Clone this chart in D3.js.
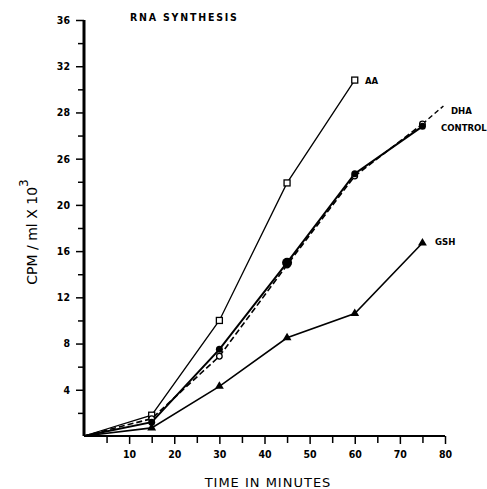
<!DOCTYPE html>
<html>
<head>
<meta charset="utf-8">
<script src="https://cdn.jsdelivr.net/npm/d3@7"></script>
<style>
  body { margin: 0; background: #fff; }
  svg { font-family: "DejaVu Sans", sans-serif; }
</style>
</head>
<body>
<svg id="chart" width="487" height="489"></svg>
<script>
// Data (time in minutes, CPM/ml x 10^3)
const times = [0, 15, 30, 45, 60, 75];
const aaValues = [0, 1.8, 10.0, 21.9, 30.8];          // open squares, stops at 60
const controlValues = [0, 1.2, 7.5, 15.0, 22.7, 26.8]; // filled circles
const dhaValues = [0, 1.5, 6.9, 14.8, 22.5, 27.0];     // dashed
const gshValues = [0, 0.7, 4.3, 8.5, 10.6, 16.7];      // filled triangles

const yTicks = [4, 8, 12, 16, 20, 24, 28, 32, 36];
const yTickLabels = ["4", "8", "12", "16", "20", "26", "28", "32", "36"];
const yMinorTicks = [2, 6, 10, 14, 18, 22, 26, 30, 34];
const xTicks = [10, 20, 30, 40, 50, 60, 70, 80];
const xMinorTicks = [5, 15, 25, 35, 45, 55, 65, 75];

const svg = d3.select("#chart");
const x = d3.scaleLinear().domain([0, 80]).range([84, 445]);
const y = d3.scaleLinear().domain([0, 36]).range([436, 20]);
const cond = "'DejaVu Sans Condensed', 'DejaVu Sans', sans-serif";

// Axes
const yAxis = svg.append("g")
    .attr("transform", `translate(${x(0)},0)`)
    .call(d3.axisLeft(y).tickValues(yTicks).tickFormat((d, i) => yTickLabels[i]).tickSize(8).tickPadding(6));
yAxis.select(".domain").attr("stroke-width", 3).attr("d", `M0,${y(36)}V${y(0)}`);
yAxis.selectAll("text").attr("font-size", 10.5).attr("font-weight", "bold").attr("font-family", cond);
yAxis.selectAll(".tick line").attr("stroke-width", 1.5);
svg.append("g")
    .attr("transform", `translate(${x(0)},0)`)
    .call(d3.axisLeft(y).tickValues(yMinorTicks).tickFormat("").tickSize(6))
    .call(g => g.select(".domain").remove())
    .selectAll(".tick line").attr("stroke-width", 1.5);

const xAxis = svg.append("g")
    .attr("transform", `translate(0,${y(0)})`)
    .call(d3.axisBottom(x).tickValues(xTicks).tickSize(8).tickPadding(7));
xAxis.select(".domain").attr("stroke-width", 2).attr("d", `M${x(0)},0H${x(80)}`);
xAxis.selectAll("text").attr("font-size", 10.5).attr("font-weight", "bold").attr("font-family", cond);
xAxis.selectAll(".tick line").attr("stroke-width", 1.5);
svg.append("g")
    .attr("transform", `translate(0,${y(0)})`)
    .call(d3.axisBottom(x).tickValues(xMinorTicks).tickFormat("").tickSize(7))
    .call(g => g.select(".domain").remove())
    .selectAll(".tick line").attr("stroke-width", 1.5);

// Lines
const line = d3.line().x((d, i) => x(times[i])).y(d => y(d));

svg.append("path").datum(aaValues).attr("d", line)
    .attr("fill", "none").attr("stroke", "#000").attr("stroke-width", 1.3);
svg.append("path").datum(dhaValues).attr("d", line)
    .attr("fill", "none").attr("stroke", "#000").attr("stroke-width", 1.6).attr("stroke-dasharray", "6,3");
svg.append("path").datum(controlValues).attr("d", line)
    .attr("fill", "none").attr("stroke", "#000").attr("stroke-width", 2);
svg.append("path").datum(gshValues).attr("d", line)
    .attr("fill", "none").attr("stroke", "#000").attr("stroke-width", 1.6);

// DHA leader
const last = dhaValues.length - 1;
svg.append("line")
    .attr("x1", x(times[last])).attr("y1", y(dhaValues[last]))
    .attr("x2", x(times[last]) + 21).attr("y2", y(dhaValues[last]) - 18)
    .attr("stroke", "#000").attr("stroke-width", 1.4).attr("stroke-dasharray", "5,3");

// Markers
svg.selectAll(".aa").data(aaValues.slice(1)).enter().append("rect")
    .attr("x", (d, i) => x(times[i + 1]) - 3).attr("y", d => y(d) - 3)
    .attr("width", 6).attr("height", 6)
    .attr("fill", "#fff").attr("stroke", "#000").attr("stroke-width", 1.3);
svg.selectAll(".dha").data(dhaValues.slice(1)).enter().append("circle")
    .attr("cx", (d, i) => x(times[i + 1])).attr("cy", d => y(d)).attr("r", 2.8)
    .attr("fill", "#fff").attr("stroke", "#000").attr("stroke-width", 1.3);
svg.selectAll(".ctrl").data(controlValues.slice(1)).enter().append("circle")
    .attr("cx", (d, i) => x(times[i + 1])).attr("cy", d => y(d)).attr("r", (d, i) => i === 2 ? 5 : 3.5)
    .attr("fill", "#000");
const tri = d3.symbol().type(d3.symbolTriangle).size(34);
svg.selectAll(".gsh").data(gshValues.slice(1)).enter().append("path")
    .attr("d", tri)
    .attr("transform", (d, i) => `translate(${x(times[i + 1])},${y(d)})`)
    .attr("fill", "#000");

// Series labels
const labels = [
  { text: "AA", x: 365, y: 84 },
  { text: "DHA", x: 451, y: 114 },
  { text: "CONTROL", x: 441, y: 131 },
  { text: "GSH", x: 435, y: 245 }
];
svg.selectAll(".lbl").data(labels).enter().append("text")
    .attr("x", d => d.x).attr("y", d => d.y)
    .attr("font-size", 9.5).attr("font-weight", "bold").attr("font-family", cond)
    .text(d => d.text);

// Title
svg.append("text").attr("x", 130).attr("y", 21)
    .attr("font-size", 10.5).attr("font-weight", "bold").attr("letter-spacing", 1.8)
    .attr("font-family", cond)
    .text("RNA  SYNTHESIS");

// Axis titles
svg.append("text")
    .attr("x", 268).attr("y", 487)
    .attr("text-anchor", "middle").attr("font-size", 13).attr("letter-spacing", 1)
    .text("TIME  IN  MINUTES");

const yl = svg.append("text")
    .attr("transform", "translate(37,232) rotate(-90)")
    .attr("text-anchor", "middle").attr("font-size", 14);
yl.append("tspan").text("CPM / ml X 10");
yl.append("tspan").attr("dy", -9).attr("font-size", 12).text("3");
</script>
</body>
</html>
